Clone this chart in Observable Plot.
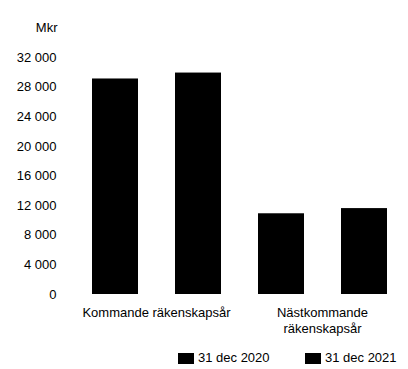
<!DOCTYPE html>
<html>
<head>
<meta charset="utf-8">
<script src="https://cdn.jsdelivr.net/npm/d3@7"></script>
<script src="https://cdn.jsdelivr.net/npm/@observablehq/plot@0.6"></script>
<style>
  html, body { margin: 0; padding: 0; background: #fff; }
  #chart { width: 408px; font-family: "Liberation Sans", Arial, sans-serif; color: #000; }
  .legend { position: relative; height: 29px; font-size: 13px; }
  .legend .item { position: absolute; top: 11px; display: flex; align-items: center; gap: 4px; line-height: 14px; }
  .legend .swatch { width: 16px; height: 11px; background: #000; }
</style>
</head>
<body>
<div id="chart"></div>
<script>
// Mkr per period
const groups = ["Kommande räkenskapsår", "Nästkommande räkenskapsår"];
const groupLabels = ["Kommande räkenskapsår", "Nästkommande\nräkenskapsår"];
const periods = ["31 dec 2020", "31 dec 2021"];
const values2020 = [29100, 10900];
const values2021 = [29900, 11600];
const yTicks = [0, 4000, 8000, 12000, 16000, 20000, 24000, 28000, 32000];
const seriesColors = ["#000000", "#000000"];

const data = [];
groups.forEach((g, i) => {
  data.push({group: g, period: periods[0], value: values2020[i]});
  data.push({group: g, period: periods[1], value: values2021[i]});
});

const fmt = d => d3.format(",")(d).replace(/,/g, " ");

const plot = Plot.plot({
  width: 408,
  height: 340,
  marginLeft: 73,
  marginRight: 3,
  marginTop: 57,
  marginBottom: 46,
  style: {fontFamily: "'Liberation Sans', Arial, sans-serif", fontSize: "13px", color: "#000", background: "#fff"},
  fx: {domain: groups, padding: 0, label: null},
  x: {domain: periods, paddingInner: 0.45, paddingOuter: 0.225, axis: null},
  y: {domain: [0, 32000], label: null},
  color: {domain: periods, range: seriesColors},
  marks: [
    Plot.axisY({ticks: yTicks, tickFormat: fmt, label: null, tickSize: 0, tickPadding: 17}),
    Plot.axisFx({
      anchor: "bottom", label: null, tickSize: 0, tickPadding: 11, lineHeight: 1.25,
      tickFormat: d => groupLabels[groups.indexOf(d)]
    }),
    Plot.barY(data, {fx: "group", x: "period", y: "value", fill: "period"}),
    Plot.text(["Mkr"], {fx: () => groups[0], frameAnchor: "top-left", dx: -16, dy: -35, textAnchor: "end"})
  ]
});

const chart = document.getElementById("chart");
chart.appendChild(plot);

// legend below the plot
const legend = document.createElement("div");
legend.className = "legend";
const legendX = [178, 305];
periods.forEach((p, i) => {
  const item = document.createElement("div");
  item.className = "item";
  item.style.left = legendX[i] + "px";
  const sw = document.createElement("span");
  sw.className = "swatch";
  sw.style.background = seriesColors[i];
  const label = document.createElement("span");
  label.textContent = p;
  item.appendChild(sw);
  item.appendChild(label);
  legend.appendChild(item);
});
chart.appendChild(legend);
</script>
</body>
</html>
